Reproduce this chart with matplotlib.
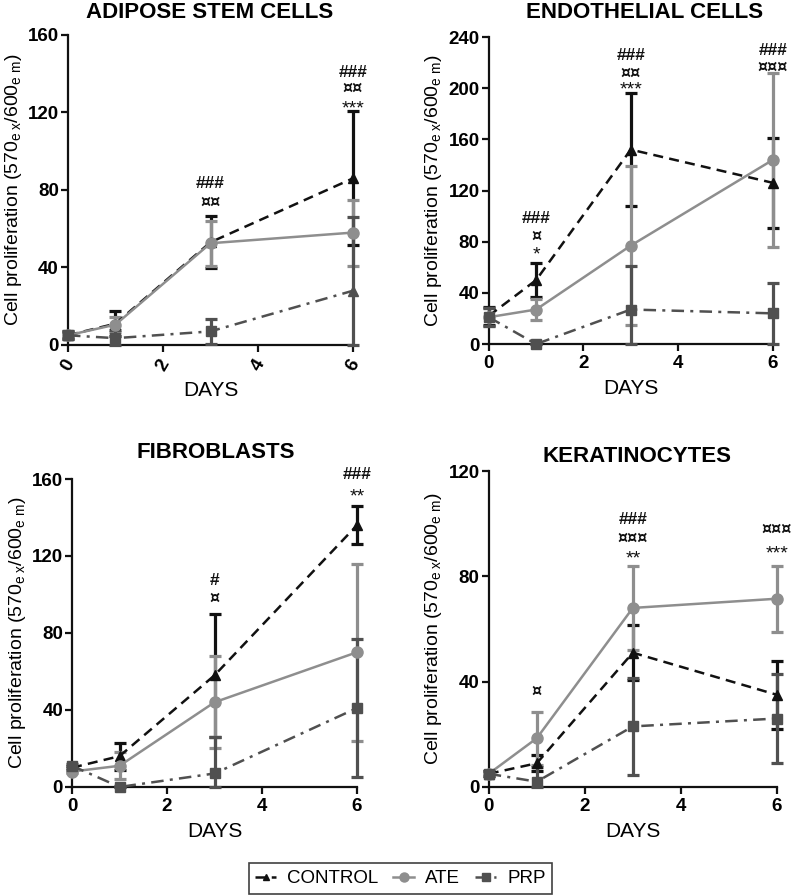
import matplotlib
matplotlib.use("Agg")
import matplotlib.pyplot as plt
import numpy as np

plt.rcParams['font.family'] = ['Liberation Sans', 'DejaVu Sans']
plt.rcParams['mathtext.fontset'] = 'custom'
plt.rcParams['mathtext.rm'] = 'Liberation Sans'
plt.rcParams['mathtext.it'] = 'Liberation Sans'

days = [0, 1, 3, 6]
series_names = ["CONTROL", "ATE", "PRP"]

titles = ["ADIPOSE STEM CELLS", "ENDOTHELIAL CELLS", "FIBROBLASTS", "KERATINOCYTES"]
ymax = [160, 240, 160, 120]
ystep = [40, 40, 40, 40]

# ADIPOSE STEM CELLS
adipose_control = [5, 11, 53, 86]
adipose_control_sd = [2, 6.5, 13.5, 34.5]
adipose_ate = [5, 10.5, 52.5, 58]
adipose_ate_sd = [1.5, 4, 11.5, 17]
adipose_prp = [5, 3.5, 7, 28]
adipose_prp_sd = [1.5, 4, 6.5, 38]

# ENDOTHELIAL CELLS
endo_control = [22, 50, 152, 126]
endo_control_sd = [7, 13, 44, 35]
endo_ate = [21, 27, 77, 144]
endo_ate_sd = [7, 8.5, 62, 68]
endo_prp = [21, 0, 27, 24]
endo_prp_sd = [7, 0, 34, 24]

# FIBROBLASTS
fibro_control = [10, 16, 58, 136]
fibro_control_sd = [1, 7, 32, 10]
fibro_ate = [8, 11, 44, 70]
fibro_ate_sd = [1, 7, 24, 46]
fibro_prp = [11, 0, 7, 41]
fibro_prp_sd = [1, 0, 19, 36]

# KERATINOCYTES
kera_control = [5, 9, 51, 35]
kera_control_sd = [1, 3, 10.5, 13]
kera_ate = [5, 18.5, 68, 71.5]
kera_ate_sd = [1, 10, 16, 12.5]
kera_prp = [5, 2, 23, 26]
kera_prp_sd = [1, 5.5, 18.5, 17]

# significance annotations: (day, y, symbols)
adipose_marks = [(3, 84.3, "###"), (3, 74.3, "¤¤"),
                 (6, 141.7, "###"), (6, 133.3, "¤¤"), (6, 124.9, "***")]
endo_marks = [(1, 99.5, "###"), (1, 85.2, "¤"), (1, 74.3, "*"),
              (3, 226.5, "###"), (3, 213.2, "¤¤"), (3, 203.0, "***"),
              (6, 230.4, "###"), (6, 217.4, "¤¤¤")]
fibro_marks = [(3, 108.3, "#"), (3, 98.9, "¤"), (6, 163.0, "###"), (6, 153.9, "**")]
kera_marks = [(1, 36.8, "¤"), (3, 102.3, "###"), (3, 95.1, "¤¤¤"), (3, 88.8, "**"),
              (6, 98.4, "¤¤¤"), (6, 90.9, "***")]

panels = [
    (adipose_control, adipose_control_sd, adipose_ate, adipose_ate_sd, adipose_prp, adipose_prp_sd, adipose_marks),
    (endo_control, endo_control_sd, endo_ate, endo_ate_sd, endo_prp, endo_prp_sd, endo_marks),
    (fibro_control, fibro_control_sd, fibro_ate, fibro_ate_sd, fibro_prp, fibro_prp_sd, fibro_marks),
    (kera_control, kera_control_sd, kera_ate, kera_ate_sd, kera_prp, kera_prp_sd, kera_marks),
]

colors = {"CONTROL": "#111111", "ATE": "#8e8e8e", "PRP": "#505050"}
linestyles = {"CONTROL": (0, (4, 2.5)), "ATE": "-", "PRP": (0, (5, 2.5, 1.2, 2.5))}
markers = {"CONTROL": "^", "ATE": "o", "PRP": "s"}
msizes = {"CONTROL": 6.5, "ATE": 8, "PRP": 7}

# text style per symbol kind: (family, size, weight, downward pixel shift ink->box centre)
sym_style = {
    "#": (["Liberation Sans"], 12.5, "bold", 1.7),
    "¤": (["DejaVu Sans"], 11.5, "bold", 1.7),
    "*": (["Liberation Sans"], 14, "normal", 6.0),
}

W, H = 796, 896
# axes rectangles in figure fraction [left, bottom, width, height]
rects = [
    [0.0854, 0.615, 0.3581, 0.346],
    [0.614, 0.616, 0.357, 0.3427],
    [0.0905, 0.1217, 0.358, 0.3437],
    [0.614, 0.1217, 0.362, 0.3526],
]
# title centre x / baseline y in pixels
title_pos = [(210, 17.5), (645, 17.5), (216, 457.5), (637, 461.5)]

fig = plt.figure(figsize=(7.96, 8.96), dpi=100)
ylabel = r'Cell proliferation (570$_{\mathregular{e\ x}}$/600$_{\mathregular{e\ m}}$)'

for i, (rect, panel) in enumerate(zip(rects, panels)):
    ax = fig.add_axes(rect)
    c, csd, a, asd, p, psd, marks = panel
    data = {"CONTROL": (c, csd), "ATE": (a, asd), "PRP": (p, psd)}
    for name in series_names:
        vals, sd = data[name]
        vals = np.array(vals, float)
        sd = np.array(sd, float)
        lower = np.minimum(sd, vals)
        col = colors[name]
        ax.errorbar(days, vals, yerr=[lower, sd], fmt='none', ecolor=col,
                    elinewidth=2.3, capsize=4.2, capthick=2.3, clip_on=False, zorder=3)
        mk = markers[name]
        if i == 0 and name == "PRP":
            ax.plot(days, vals, color=col, linestyle=linestyles[name], lw=1.8,
                    clip_on=False, zorder=4)
            ax.plot(days[:3], vals[:3], color=col, linestyle='none', marker='s',
                    ms=msizes[name], clip_on=False, zorder=4)
            ax.plot(days[3:], vals[3:], color=col, linestyle='none', marker='^',
                    ms=7, clip_on=False, zorder=4)
        else:
            ax.plot(days, vals, color=col, linestyle=linestyles[name], lw=1.8,
                    marker=mk, ms=msizes[name], clip_on=False, zorder=4)
    for (d, y, t) in marks:
        fam, size, weight, shift = sym_style[t[0]]
        ax.annotate(t, xy=(d, y), xytext=(0, -shift * 0.72), textcoords='offset points',
                    ha='center', va='center', fontsize=size, fontweight=weight,
                    family=fam, color='#111111', zorder=5, annotation_clip=False)

    ax.set_xlim(0, 6)
    ax.set_ylim(0, ymax[i])
    ax.set_xticks([0, 2, 4, 6])
    ax.set_yticks(np.arange(0, ymax[i] + 1, ystep[i]))
    for s in ['top', 'right']:
        ax.spines[s].set_visible(False)
    for s in ['left', 'bottom']:
        ax.spines[s].set_linewidth(1.6)
        ax.spines[s].set_color('#111111')
    ax.tick_params(width=1.6, length=5, labelsize=13.5, color='#111111')
    ax.tick_params(axis='y', pad=1.5)
    ax.tick_params(axis='x', pad=3)
    for lab in ax.get_xticklabels() + ax.get_yticklabels():
        lab.set_fontweight('bold')
    if i == 0:
        for lab in ax.get_xticklabels():
            lab.set_rotation(60)
            lab.set_ha('center')
            lab.set_va('top')
    tx, ty = title_pos[i]
    fig.text(tx / W, 1 - ty / H, titles[i], ha='center', va='baseline',
             fontsize=16, fontweight='bold')
    ax.set_xlabel("DAYS", fontsize=15, labelpad=5)
    ax.set_ylabel(ylabel, fontsize=14, labelpad=3)

# legend
handles = []
for name in series_names:
    h, = plt.plot([], [], color=colors[name], linestyle=linestyles[name], lw=1.8,
                  marker=markers[name], ms=msizes[name] - 1.5)
    handles.append(h)
leg = fig.legend(handles, series_names, loc='center', bbox_to_anchor=(0.503, 0.0195),
                 ncol=3, frameon=True, fontsize=13.5, handlelength=1.1, columnspacing=0.8,
                 handletextpad=0.6, borderpad=0.35, fancybox=False, edgecolor='#111111')
leg.get_frame().set_linewidth(1.2)

fig.savefig("out.png", dpi=100)
